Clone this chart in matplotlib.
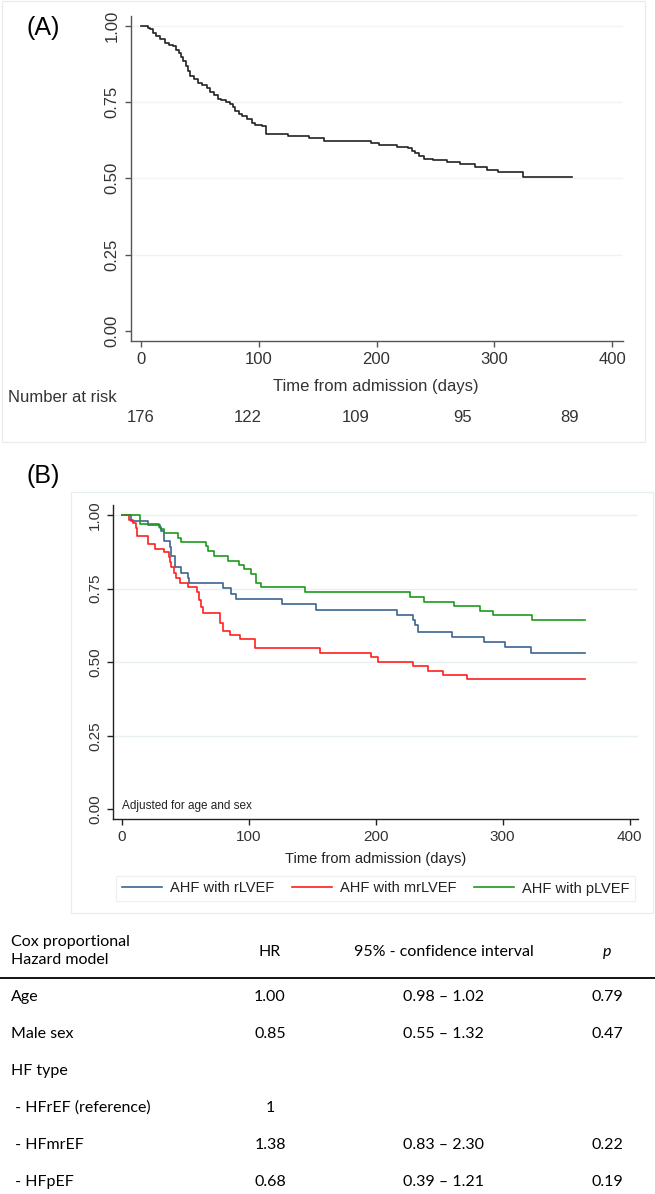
import matplotlib
matplotlib.use("Agg")
import matplotlib.pyplot as plt
from matplotlib.patches import Rectangle
from matplotlib.transforms import blended_transform_factory

W, H = 655, 1194
fig = plt.figure(figsize=(W / 100, H / 100), dpi=100)

plt.rcParams["font.family"] = ["Liberation Sans", "DejaVu Sans"]

# ---- data ---------------------------------------------------------------
# (A) overall Kaplan-Meier
days_a = [0, 6, 8, 10, 13, 16, 20, 24, 27, 30, 32, 34, 36, 38, 40, 42, 45, 48, 52,
          56, 59, 62, 65, 68, 72, 76, 78, 80, 83, 86, 90, 94, 97, 103, 106, 125, 143,
          155, 195, 202, 217, 227, 230, 233, 236, 240, 248, 260, 271, 284, 294, 303,
          324, 366]
surv_a = [1.000, 0.994, 0.989, 0.977, 0.966, 0.955, 0.943, 0.937, 0.932, 0.920, 0.909,
          0.898, 0.886, 0.869, 0.852, 0.835, 0.824, 0.813, 0.807, 0.795, 0.784, 0.773,
          0.761, 0.756, 0.750, 0.744, 0.733, 0.722, 0.710, 0.705, 0.693, 0.682, 0.676,
          0.670, 0.645, 0.639, 0.633, 0.622, 0.616, 0.610, 0.604, 0.598, 0.588, 0.582,
          0.574, 0.565, 0.559, 0.553, 0.546, 0.538, 0.528, 0.521, 0.506, 0.506]
risk_days = [0, 91, 182, 273, 364]
risk_n = [176, 122, 109, 95, 89]

# (B) adjusted curves by HF type
days_r = [0, 7, 21, 30, 31, 33, 38, 39, 42, 47, 52, 53, 80, 86, 90, 126, 153, 217,
          229, 231, 233, 260, 285, 302, 322, 365]
surv_r = [1.000, 0.981, 0.966, 0.955, 0.947, 0.911, 0.892, 0.859, 0.825, 0.804, 0.785,
          0.768, 0.751, 0.732, 0.715, 0.697, 0.677, 0.659, 0.643, 0.626, 0.603, 0.587,
          0.568, 0.550, 0.531, 0.531]
days_mr = [0, 6, 9, 11, 12, 21, 26, 33, 37, 38, 39, 41, 43, 46, 52, 59, 61, 62, 64, 77,
           80, 85, 93, 105, 156, 196, 202, 229, 241, 253, 272, 365]
surv_mr = [1.000, 0.983, 0.972, 0.955, 0.929, 0.901, 0.885, 0.873, 0.856, 0.841, 0.825,
           0.802, 0.785, 0.768, 0.754, 0.737, 0.711, 0.688, 0.666, 0.632, 0.607, 0.592,
           0.578, 0.547, 0.532, 0.516, 0.501, 0.487, 0.471, 0.455, 0.442, 0.442]
days_p = [0, 14, 29, 31, 33, 44, 47, 66, 68, 73, 84, 92, 96, 102, 106, 110, 144, 227,
          238, 262, 282, 292, 323, 365]
surv_p = [1.000, 0.969, 0.960, 0.952, 0.938, 0.923, 0.908, 0.894, 0.877, 0.860, 0.844,
          0.830, 0.815, 0.800, 0.770, 0.754, 0.737, 0.722, 0.705, 0.690, 0.674, 0.659,
          0.643, 0.643]
groups = ["AHF with rLVEF", "AHF with mrLVEF", "AHF with pLVEF"]
colors = ["#3d6591", "#ff1f1f", "#1e9a1e"]

# Cox model table
tab_header = ["Cox proportional\nHazard model", "HR", "95% - confidence interval", "p"]
tab_labels = ["Age", "Male sex", "HF type", " - HFrEF (reference)", " - HFmrEF", " - HFpEF"]
tab_hr = ["1.00", "0.85", "", "1", "1.38", "0.68"]
tab_ci = ["0.98 \u2013 1.02", "0.55 \u2013 1.32", "", "", "0.83 \u2013 2.30", "0.39 \u2013 1.21"]
tab_p = ["0.79", "0.47", "", "", "0.22", "0.19"]


def fx(x):
    return x / W


def fy(y):
    return 1 - y / H


def box(x0, y0, x1, y1, color):
    fig.patches.append(Rectangle((fx(x0), fy(y1)), fx(x1) - fx(x0), fy(y0) - fy(y1),
                                 transform=fig.transFigure, fill=False, lw=0.9,
                                 edgecolor=color, zorder=0))


def style_axes(ax, spine_col, grid_col, xlim, ylim, fs):
    ax.set_xlim(*xlim)
    ax.set_ylim(*ylim)
    for s in ["top", "right"]:
        ax.spines[s].set_visible(False)
    for s in ["left", "bottom"]:
        ax.spines[s].set_color(spine_col)
        ax.spines[s].set_linewidth(1.0)
    ax.set_xticks([0, 100, 200, 300, 400])
    ax.set_yticks([0, 0.25, 0.5, 0.75, 1.0])
    ax.set_yticklabels(["0.00", "0.25", "0.50", "0.75", "1.00"])
    ax.tick_params(direction="out", length=4, width=1.0, color=spine_col,
                   labelsize=fs, labelcolor="#333333", pad=4)
    ax.tick_params(axis="y", labelrotation=90)
    for lab in ax.get_yticklabels():
        lab.set_va("center")
    for g in [0.25, 0.5, 0.75, 1.0]:
        ax.axhline(g, color=grid_col, lw=1.0, zorder=0)
    ax.patch.set_alpha(0)


# ---- panel A --------------------------------------------------------------
box(2, 1, 645, 442, "#ebebeb")
axA = fig.add_axes([fx(130.5), fy(340.7), fx(622.6) - fx(130.5), (340.7 - 16) / H])
axA.plot(days_a, surv_a, drawstyle="steps-post", color="#222222", lw=1.2)
style_axes(axA, "#555555", "#f2f2f2", (-8.92, 409.0), (-0.0318, 1.0318), 12)
fig.text(fx(43), fy(28), "(A)", fontsize=18, ha="center", va="center")
fig.text(fx(376), fy(386), "Time from admission (days)", fontsize=12,
         color="#333333", ha="center", va="center")
fig.text(fx(8), fy(398), "Number at risk", fontsize=12, color="#333333",
         ha="left", va="center")
trA = blended_transform_factory(axA.transData, fig.transFigure)
for d, n in zip(risk_days, risk_n):
    fig.text(d, fy(417), str(n), transform=trA, fontsize=12, color="#333333",
             ha="center", va="center")

# ---- panel B --------------------------------------------------------------
fig.text(fx(43), fy(476), "(B)", fontsize=18, ha="center", va="center")
box(71, 492, 653, 913, "#e6eef0")
axB = fig.add_axes([fx(113), fy(819), fx(638) - fx(113), (819 - 505) / H])
handles = []
for d, s, c, g in zip([days_r, days_mr, days_p], [surv_r, surv_mr, surv_p], colors, groups):
    h, = axB.plot(d, s, drawstyle="steps-post", color=c, lw=1.2, label=g)
    handles.append(h)
style_axes(axB, "#222222", "#e8f0f2", (-6.93, 406.6), (-0.033, 1.034), 11)
axB.text(0, -0.008, "Adjusted for age and sex", fontsize=8.5, color="#222222",
         ha="left", va="bottom")
fig.text(fx(376), fy(859), "Time from admission (days)", fontsize=10.5,
         color="#222222", ha="center", va="center")
leg = fig.legend(handles=handles, labels=groups, ncol=3, loc="center",
                 bbox_to_anchor=(fx(375.5), fy(888.5)), fontsize=10.5, frameon=True,
                 fancybox=False, edgecolor="#e6eef0", handlelength=2.75,
                 handletextpad=0.55, columnspacing=1.2, borderpad=0.4)
leg.get_frame().set_linewidth(0.9)
for t in leg.get_texts():
    t.set_color("#222222")

# ---- table ----------------------------------------------------------------
TAB = ["Lato", "DejaVu Sans"]
FS = 11.5
col_x = [11, 270, 443.5, 607]
fig.text(fx(col_x[0]), fy(951), tab_header[0], fontsize=FS, family=TAB,
         ha="left", va="center", linespacing=1.4)
fig.text(fx(col_x[1]), fy(952), tab_header[1], fontsize=FS, family=TAB,
         ha="center", va="center")
fig.text(fx(col_x[2]), fy(952), tab_header[2], fontsize=FS, family=TAB,
         ha="center", va="center")
fig.text(fx(col_x[3]), fy(952), tab_header[3], fontsize=FS, family=TAB,
         style="italic", ha="center", va="center")
fig.add_artist(plt.Line2D([0, 1], [fy(977.5), fy(977.5)], transform=fig.transFigure,
                          color="black", lw=1.3))
row_y = [997, 1034, 1071, 1108, 1145, 1182]
for y, lab, hr, ci, p in zip(row_y, tab_labels, tab_hr, tab_ci, tab_p):
    fig.text(fx(col_x[0]), fy(y), lab, fontsize=FS, family=TAB, ha="left", va="center")
    fig.text(fx(col_x[1]), fy(y), hr, fontsize=FS, family=TAB, ha="center", va="center")
    fig.text(fx(col_x[2]), fy(y), ci, fontsize=FS, family=TAB, ha="center", va="center")
    fig.text(fx(col_x[3]), fy(y), p, fontsize=FS, family=TAB, ha="center", va="center")

fig.savefig("out.png", dpi=100)
